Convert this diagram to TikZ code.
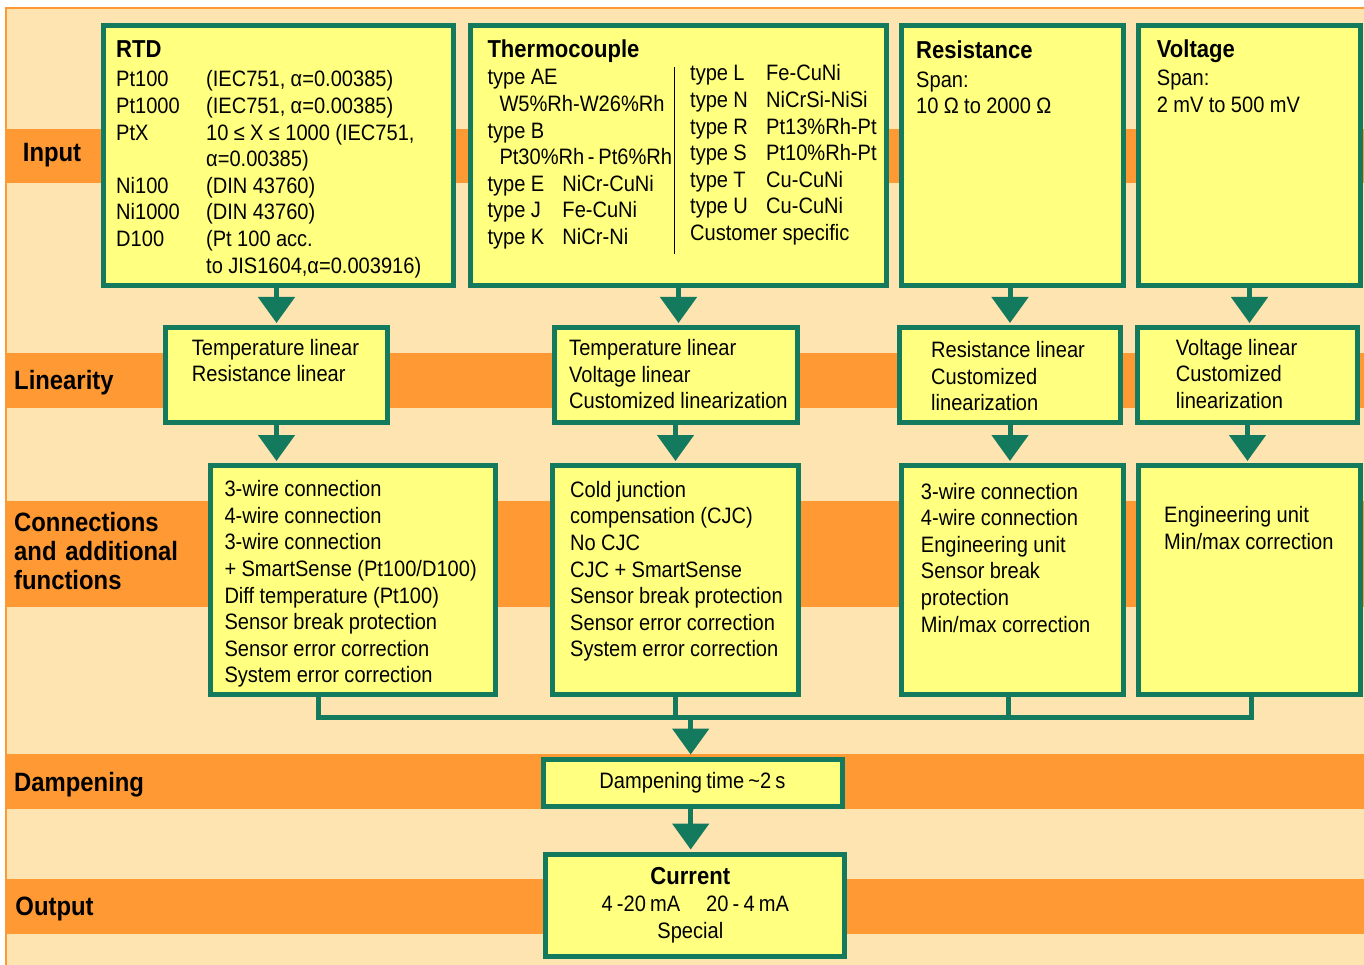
\documentclass[tikz,border=0pt]{standalone}
\usepackage{fontspec}
\setmainfont[FakeStretch=0.9, WordSpace=0.75]{Liberation Sans}
\usepackage{tikz}
\usetikzlibrary{arrows.meta, positioning}

\definecolor{ttan}{HTML}{FEE4B0}
\definecolor{torange}{HTML}{FF9933}
\definecolor{tyellow}{HTML}{FFFF80}
\definecolor{tgreen}{HTML}{137A5E}

\newcommand{\tcol}[2][90pt]{\makebox[#1][l]{#2}}

\begin{document}
\begin{tikzpicture}[x=1pt, y=-1pt,
    blk/.style={draw=tgreen, line width=5pt, fill=tyellow, inner sep=0pt},
    boxtext/.style={anchor=base west, inner sep=0pt, text width=360pt, align=left, font=\fontsize{22.3}{26.6}\selectfont,
        execute at begin node={\spaceskip=0.24em\relax}},
    sectitle/.style={anchor=base west, inner sep=0pt, font=\fontsize{24.5}{28}\selectfont\bfseries},
    rowname/.style={anchor=base west, inner sep=0pt, text width=200pt, align=left, font=\fontsize{26.5}{29}\selectfont\bfseries},
    flowarrow/.style={draw=tgreen, line width=5pt, -{Triangle[width=36pt,length=26pt]}, shorten >=2pt},
    busline/.style={draw=tgreen, line width=5pt}]
    \useasboundingbox (0,0) rectangle (1364,965);

    % Background and bands
    \fill[ttan] (5,8) rectangle (1364,965);
    \draw[torange, line width=2pt] (5,8) -- (1364,8);
    \draw[torange, line width=2.3pt] (6.2,8) -- (6.2,965);
    \foreach \a/\b in {129/183, 353/408, 501/607, 754/809, 879/934}
        \fill[torange] (5,\a) rectangle (1364,\b);

    % Row names
    \node[rowname] (lblinput) at (22.7,162) {Input};
    \node[rowname] (lbllin) at (14,389) {Linearity};
    \node[rowname] (lblconn) at (14,531.7) {Connections\\and additional\\functions};
    \node[rowname] (lbldamp) at (14,791) {Dampening};
    \node[rowname] (lblout) at (15.3,915) {Output};

    % Input
    \node[blk, minimum width=350pt, minimum height=260pt] (rtd) at (278.5,155.5) {};
    \node[blk, minimum width=416pt, minimum height=260pt] (tc) at (678.5,155.5) {};
    \node[blk, minimum width=222pt, minimum height=260pt] (res) at (1012.5,155.5) {};
    \node[blk, minimum width=222pt, minimum height=260pt] (volt) at (1249.5,155.5) {};

    \node[sectitle] (rtdtitle) at (116,58) {RTD};
    \node[boxtext] (rtdtext) at (116,87) {\tcol{Pt100}(IEC751, α=0.00385)\\
        \tcol{Pt1000}(IEC751, α=0.00385)\\
        \tcol{PtX}10 ≤ X ≤ 1000 (IEC751,\\
        \tcol{}α=0.00385)\\
        \tcol{Ni100}(DIN 43760)\\
        \tcol{Ni1000}(DIN 43760)\\
        \tcol{D100}(Pt 100 acc.\\
        \tcol{}to JIS1604,α=0.003916)};

    \node[sectitle] (tctitle) at (487.3,57.5) {Thermocouple};
    \node[boxtext] (tcleft) at (487.3,85) {type AE\\
        \hspace*{12pt}W5\%Rh-W26\%Rh\\
        type B\\
        \hspace*{12pt}Pt30\%Rh\,-\,Pt6\%Rh\\
        \tcol[75pt]{type E}NiCr-CuNi\\
        \tcol[75pt]{type J}Fe-CuNi\\
        \tcol[75pt]{type K}NiCr-Ni};
    \draw[line width=1.3pt] (674.3,66.7) -- (674.3,254);
    \node[boxtext] (tcright) at (690,81) {\tcol[76pt]{type L}Fe-CuNi\\
        \tcol[76pt]{type N}NiCrSi-NiSi\\
        \tcol[76pt]{type R}Pt13\%Rh-Pt\\
        \tcol[76pt]{type S}Pt10\%Rh-Pt\\
        \tcol[76pt]{type T}Cu-CuNi\\
        \tcol[76pt]{type U}Cu-CuNi\\
        Customer specific};

    \node[sectitle] (restitle) at (916,59) {Resistance};
    \node[boxtext] (restext) at (916,87.3) {Span:\\10 Ω to 2000 Ω};
    \node[sectitle] (volttitle) at (1156.7,57.7) {Voltage};
    \node[boxtext] (volttext) at (1156.7,86) {Span:\\2 mV to 500 mV};

    % Linearity
    \node[blk, minimum width=222pt, minimum height=95pt] (rtdlin) at (276.5,375) {};
    \node[blk, minimum width=243pt, minimum height=95pt] (tclin) at (675.5,375) {};
    \node[blk, minimum width=221pt, minimum height=95pt] (reslin) at (1010,375) {};
    \node[blk, minimum width=220pt, minimum height=95pt] (voltlin) at (1247.5,375) {};

    \node[boxtext] (rtdlintext) at (191.7,355) {Temperature linear\\Resistance linear};
    \node[boxtext] (tclintext) at (569,355.7) {Temperature linear\\Voltage linear\\Customized linearization};
    \node[boxtext] (reslintext) at (931,357.7) {Resistance linear\\Customized\\linearization};
    \node[boxtext] (voltlintext) at (1175.7,355) {Voltage linear\\Customized\\linearization};

    % Connections and additional functions
    \node[blk, minimum width=285pt, minimum height=229pt] (rtdcon) at (353,580) {};
    \node[blk, minimum width=245.5pt, minimum height=229pt] (tccon) at (675.25,580) {};
    \node[blk, minimum width=221.5pt, minimum height=229pt] (rescon) at (1012.25,580) {};
    \node[blk, minimum width=221.5pt, minimum height=229pt] (voltcon) at (1249.25,580) {};

    \node[boxtext] (rtdcontext) at (224.3,496.7) {3-wire connection\\
        4-wire connection\\
        3-wire connection\\
        + SmartSense (Pt100/D100)\\
        Diff temperature (Pt100)\\
        Sensor break protection\\
        Sensor error correction\\
        System error correction};
    \node[boxtext] (tccontext) at (570,497.3) {Cold junction\\
        compensation (CJC)\\
        No CJC\\
        CJC + SmartSense\\
        Sensor break protection\\
        Sensor error correction\\
        System error correction};
    \node[boxtext] (rescontext) at (920.7,499) {3-wire connection\\
        4-wire connection\\
        Engineering unit\\
        Sensor break\\
        protection\\
        Min/max correction};
    \node[boxtext] (voltcontext) at (1164,522.7) {Engineering unit\\Min/max correction};

    % Dampening and output
    \node[blk, minimum width=299pt, minimum height=47.5pt, font=\fontsize{22.3}{26.6}\selectfont] (damp) at (692.5,782.8) {Dampening time \textasciitilde2 s};
    \node[blk, minimum width=299pt, minimum height=102.5pt, align=center, font=\fontsize{22.3}{27}\selectfont] (cur) at (695.3,905.3)
        {{\bfseries\fontsize{24.5}{28}\selectfont Current}\hspace*{10pt}\\4 -20 mA\hspace{26pt}20 - 4 mA\hspace*{10pt}\\Special\hspace*{10pt}};

    % Arrows between rows
    \draw[flowarrow] (rtdlin.north |- rtd.south) -- (rtdlin.north);
    \draw[flowarrow] (tc.south) -- (tc.south |- tclin.north);
    \draw[flowarrow] (reslin.north |- res.south) -- (reslin.north);
    \draw[flowarrow] (volt.south) -- (volt.south |- voltlin.north);
    \draw[flowarrow] (rtdlin.south) -- (rtdlin.south |- rtdcon.north);
    \draw[flowarrow] (tclin.south) -- (tclin.south |- tccon.north);
    \draw[flowarrow] (reslin.south) -- (reslin.south |- rescon.north);
    \draw[flowarrow] (voltlin.south) -- (voltlin.south |- voltcon.north);

    % Collecting bus
    \coordinate (bus) at (690.7,717);
    \coordinate (rtddrop) at ([xshift=-35pt]rtdcon.south);
    \coordinate (resdrop) at ([xshift=-4pt]rescon.south);
    \coordinate (voltdrop) at ([xshift=2pt]voltcon.south);
    \draw[busline] (rtddrop) |- (voltdrop |- bus) -- (voltdrop);
    \draw[busline] (tccon.south) -- (tccon.south |- bus);
    \draw[busline] (resdrop) -- (resdrop |- bus);
    \draw[flowarrow] (bus) -- (bus |- damp.north);
    \draw[flowarrow] (bus |- damp.south) -- (bus |- cur.north);
\end{tikzpicture}
\end{document}
